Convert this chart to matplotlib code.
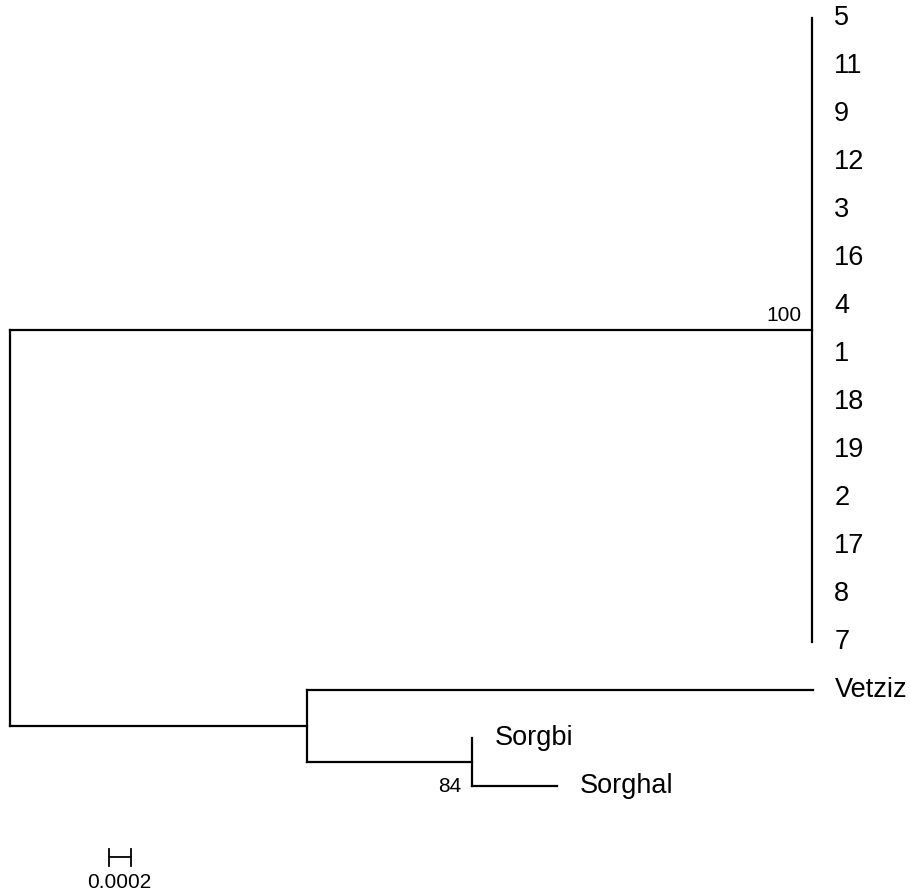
import matplotlib.pyplot as plt

# tree as parent table, branch lengths in substitutions/site
nodes = ["root", "A", "5", "11", "9", "12", "3", "16", "4", "1", "18", "19", "2", "17", "8", "7",
         "B", "Vetziz", "C", "Sorgbi", "Sorghal"]
parents = [None, "root", "A", "A", "A", "A", "A", "A", "A", "A", "A", "A", "A", "A", "A", "A",
           "root", "B", "B", "C", "C"]
branch_len = [0, 0.00746, 0, 0, 0, 0, 0, 0, 0, 0, 0, 0, 0, 0, 0, 0,
              0.00276, 0.00471, 0.00154, 0, 0.00079]
support = {"A": "100", "C": "84"}
scale_len = 0.0002

px = 107500.0  # pixels per unit length
W, H = 910, 892

children = {n: [] for n in nodes}
for n, p in zip(nodes, parents):
    if p is not None:
        children[p].append(n)
blen = dict(zip(nodes, branch_len))

xpos, ypos = {}, {}
tip_count = [0]


def layout(n, x0):
    xpos[n] = x0 + blen[n]
    if not children[n]:
        ypos[n] = tip_count[0]
        tip_count[0] += 1
    else:
        for c in children[n]:
            layout(c, xpos[n])
        ys = [ypos[c] for c in children[n]]
        ypos[n] = (min(ys) + max(ys)) / 2


layout("root", 0)

fig = plt.figure(figsize=(W / 100, H / 100), dpi=100)
ax = fig.add_axes([0, 0, 1, 1])
x0 = -10 / px
ax.set_xlim(x0, x0 + W / px)
ystep, ytop = 48.0, 18.0
ax.set_ylim((H - ytop) / ystep, -ytop / ystep)
ax.axis("off")

lw = 1.6
fnt = "Liberation Sans"
for n, p in zip(nodes, parents):
    if p is not None:
        ax.plot([xpos[p], xpos[n]], [ypos[n], ypos[n]], color="black", lw=lw,
                solid_capstyle="projecting")
    if children[n]:
        ys = [ypos[c] for c in children[n]]
        ax.plot([xpos[n], xpos[n]], [min(ys), max(ys)], color="black", lw=lw,
                solid_capstyle="projecting")
    else:
        ax.annotate(n, (xpos[n], ypos[n]), xytext=(16, 0), textcoords="offset points",
                    va="center", ha="left", fontsize=19.5, family=fnt)

# bootstrap values
ax.annotate(support["A"], (xpos["A"], ypos["A"]), xytext=(-7.2, 6.5), textcoords="offset points",
            ha="right", va="baseline", fontsize=15, family=fnt)
ax.annotate(support["C"], (xpos["C"], ypos["Sorghal"]), xytext=(-8, 0), textcoords="offset points",
            ha="right", va="center", fontsize=15, family=fnt)

# scale bar
sx = 109 / px + x0
sy = (857 - ytop) / ystep
cap = 8.5 / ystep
ax.plot([sx, sx + scale_len], [sy, sy], color="black", lw=1.3)
ax.plot([sx, sx], [sy - cap, sy + cap], color="black", lw=1.3)
ax.plot([sx + scale_len, sx + scale_len], [sy - cap, sy + cap], color="black", lw=1.3)
ax.text(sx + scale_len / 2, (888 - ytop) / ystep, "0.0002", ha="center", va="baseline",
        fontsize=15, family=fnt)

fig.savefig("out.png", dpi=100)
